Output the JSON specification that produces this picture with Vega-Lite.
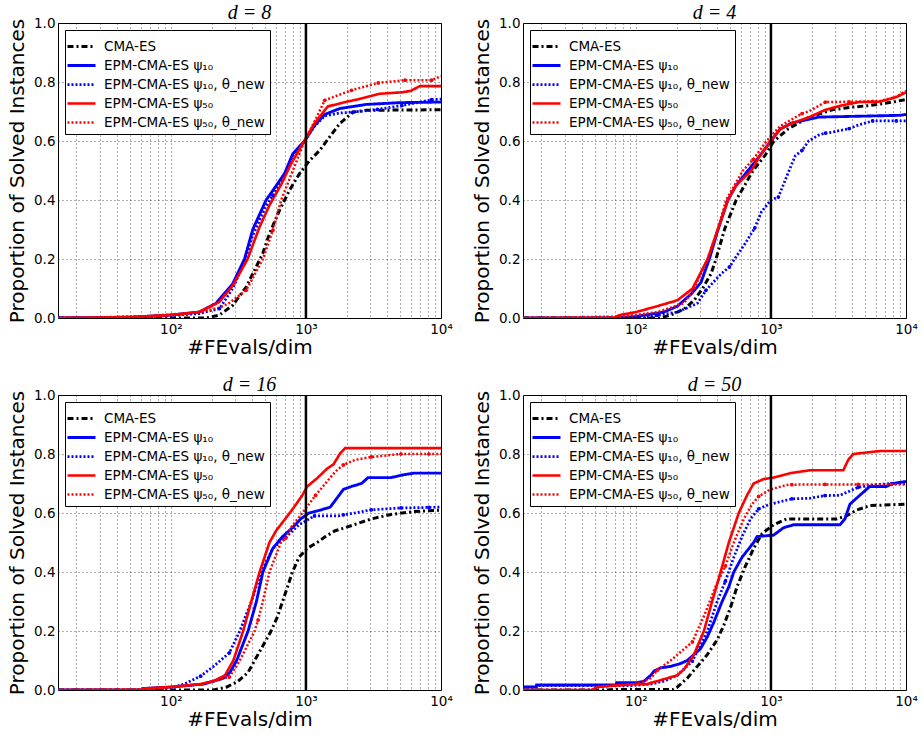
{
"$schema": "https://vega.github.io/schema/vega-lite/v6.json",
"background": "white",
"padding": {"left": 7, "top": 2, "right": 5, "bottom": 5},
"config": {
  "font": "DejaVu Sans",
  "view": {"stroke": "#000", "strokeWidth": 1},
  "title": {"font": "Liberation Serif", "fontStyle": "italic", "fontSize": 20, "fontWeight": "normal", "offset": -7, "color": "#000"},
  "axis": {"grid": true, "gridDash": [1, 3], "gridColor": "#000", "gridOpacity": 0.65, "gridWidth": 1, "domain": false, "ticks": false, "labelFontSize": 13.5, "labelColor": "#000", "titleFontSize": 20, "titleFontWeight": "normal", "titleColor": "#000", "labelFlush": false, "labelOverlap": false},
  "axisX": {"labelPadding": 4, "titlePadding": 2},
  "axisY": {"labelPadding": 3, "titlePadding": 6},
  "legend": {"orient": "top-left", "offset": 7, "fillColor": "#fff", "strokeColor": "#000", "padding": 5, "labelFontSize": 13.5, "labelColor": "#000", "labelLimit": 300, "symbolType": "M-1.4,0L1.4,0", "symbolSize": 400, "rowPadding": 1, "labelOffset": 11, "cornerRadius": 0}
},
"datasets": {
  "vline": [{"x": 1000}],
  "curves": [
{"d":8,"s":"c","x":14.6,"y":0},{"d":8,"s":"c","x":182,"y":0},{"d":8,"s":"c","x":229,"y":0.01},{"d":8,"s":"c","x":287,"y":0.043},{"d":8,"s":"c","x":361,"y":0.105},{"d":8,"s":"c","x":428,"y":0.173},{"d":8,"s":"c","x":480,"y":0.22},{"d":8,"s":"c","x":537,"y":0.286},{"d":8,"s":"c","x":637,"y":0.365},{"d":8,"s":"c","x":756,"y":0.433},{"d":8,"s":"c","x":898,"y":0.49},{"d":8,"s":"c","x":1065,"y":0.534},{"d":8,"s":"c","x":1263,"y":0.568},{"d":8,"s":"c","x":1500,"y":0.614},{"d":8,"s":"c","x":1778,"y":0.659},{"d":8,"s":"c","x":2234,"y":0.698},{"d":8,"s":"c","x":2805,"y":0.704},{"d":8,"s":"c","x":10000,"y":0.706},
{"d":8,"s":"b","x":14.6,"y":0},{"d":8,"s":"b","x":52,"y":0.003},{"d":8,"s":"b","x":100,"y":0.01},{"d":8,"s":"b","x":162,"y":0.02},{"d":8,"s":"b","x":216,"y":0.05},{"d":8,"s":"b","x":287,"y":0.116},{"d":8,"s":"b","x":351,"y":0.2},{"d":8,"s":"b","x":404,"y":0.3},{"d":8,"s":"b","x":507,"y":0.4},{"d":8,"s":"b","x":553,"y":0.424},{"d":8,"s":"b","x":695,"y":0.49},{"d":8,"s":"b","x":800,"y":0.557},{"d":8,"s":"b","x":977,"y":0.6},{"d":8,"s":"b","x":1159,"y":0.653},{"d":8,"s":"b","x":1376,"y":0.69},{"d":8,"s":"b","x":1778,"y":0.71},{"d":8,"s":"b","x":2805,"y":0.724},{"d":8,"s":"b","x":4966,"y":0.73},{"d":8,"s":"b","x":10000,"y":0.732},
{"d":8,"s":"bn","x":14.6,"y":0},{"d":8,"s":"bn","x":52,"y":0.003},{"d":8,"s":"bn","x":100,"y":0.008},{"d":8,"s":"bn","x":162,"y":0.015},{"d":8,"s":"bn","x":229,"y":0.032},{"d":8,"s":"bn","x":287,"y":0.1},{"d":8,"s":"bn","x":351,"y":0.19},{"d":8,"s":"bn","x":404,"y":0.28},{"d":8,"s":"bn","x":507,"y":0.38},{"d":8,"s":"bn","x":569,"y":0.416},{"d":8,"s":"bn","x":695,"y":0.48},{"d":8,"s":"bn","x":800,"y":0.55},{"d":8,"s":"bn","x":977,"y":0.6},{"d":8,"s":"bn","x":1159,"y":0.65},{"d":8,"s":"bn","x":1376,"y":0.685},{"d":8,"s":"bn","x":1778,"y":0.695},{"d":8,"s":"bn","x":2234,"y":0.698},{"d":8,"s":"bn","x":3388,"y":0.707},{"d":8,"s":"bn","x":5130,"y":0.72},{"d":8,"s":"bn","x":8510,"y":0.74},{"d":8,"s":"bn","x":10000,"y":0.742},
{"d":8,"s":"r","x":14.6,"y":0},{"d":8,"s":"r","x":52,"y":0.003},{"d":8,"s":"r","x":100,"y":0.01},{"d":8,"s":"r","x":162,"y":0.02},{"d":8,"s":"r","x":228,"y":0.054},{"d":8,"s":"r","x":287,"y":0.11},{"d":8,"s":"r","x":370,"y":0.2},{"d":8,"s":"r","x":453,"y":0.308},{"d":8,"s":"r","x":537,"y":0.382},{"d":8,"s":"r","x":660,"y":0.455},{"d":8,"s":"r","x":777,"y":0.523},{"d":8,"s":"r","x":977,"y":0.602},{"d":8,"s":"r","x":1159,"y":0.66},{"d":8,"s":"r","x":1450,"y":0.717},{"d":8,"s":"r","x":1950,"y":0.732},{"d":8,"s":"r","x":2470,"y":0.742},{"d":8,"s":"r","x":2920,"y":0.751},{"d":8,"s":"r","x":3480,"y":0.76},{"d":8,"s":"r","x":5130,"y":0.765},{"d":8,"s":"r","x":6000,"y":0.77},{"d":8,"s":"r","x":6950,"y":0.786},{"d":8,"s":"r","x":10000,"y":0.786},
{"d":8,"s":"rn","x":14.6,"y":0},{"d":8,"s":"rn","x":60,"y":0.005},{"d":8,"s":"rn","x":100,"y":0.012},{"d":8,"s":"rn","x":162,"y":0.02},{"d":8,"s":"rn","x":230,"y":0.035},{"d":8,"s":"rn","x":269,"y":0.05},{"d":8,"s":"rn","x":361,"y":0.094},{"d":8,"s":"rn","x":480,"y":0.2},{"d":8,"s":"rn","x":569,"y":0.297},{"d":8,"s":"rn","x":656,"y":0.4},{"d":8,"s":"rn","x":800,"y":0.5},{"d":8,"s":"rn","x":977,"y":0.6},{"d":8,"s":"rn","x":1200,"y":0.68},{"d":8,"s":"rn","x":1377,"y":0.738},{"d":8,"s":"rn","x":2173,"y":0.772},{"d":8,"s":"rn","x":3428,"y":0.797},{"d":8,"s":"rn","x":5410,"y":0.806},{"d":8,"s":"rn","x":8510,"y":0.806},{"d":8,"s":"rn","x":10000,"y":0.82},

{"d":4,"s":"c","x":14.6,"y":0},{"d":4,"s":"c","x":150,"y":0},{"d":4,"s":"c","x":181,"y":0.01},{"d":4,"s":"c","x":227,"y":0.03},{"d":4,"s":"c","x":270,"y":0.06},{"d":4,"s":"c","x":312,"y":0.1},{"d":4,"s":"c","x":360,"y":0.15},{"d":4,"s":"c","x":392,"y":0.2},{"d":4,"s":"c","x":453,"y":0.3},{"d":4,"s":"c","x":553,"y":0.4},{"d":4,"s":"c","x":639,"y":0.45},{"d":4,"s":"c","x":738,"y":0.5},{"d":4,"s":"c","x":902,"y":0.55},{"d":4,"s":"c","x":1040,"y":0.597},{"d":4,"s":"c","x":1348,"y":0.642},{"d":4,"s":"c","x":1901,"y":0.68},{"d":4,"s":"c","x":2844,"y":0.706},{"d":4,"s":"c","x":4010,"y":0.715},{"d":4,"s":"c","x":5345,"y":0.72},{"d":4,"s":"c","x":8000,"y":0.732},{"d":4,"s":"c","x":10000,"y":0.741},
{"d":4,"s":"b","x":14.6,"y":0},{"d":4,"s":"b","x":72,"y":0},{"d":4,"s":"b","x":100,"y":0.005},{"d":4,"s":"b","x":161,"y":0.02},{"d":4,"s":"b","x":203,"y":0.04},{"d":4,"s":"b","x":255,"y":0.08},{"d":4,"s":"b","x":303,"y":0.12},{"d":4,"s":"b","x":350,"y":0.2},{"d":4,"s":"b","x":404,"y":0.297},{"d":4,"s":"b","x":480,"y":0.4},{"d":4,"s":"b","x":553,"y":0.45},{"d":4,"s":"b","x":677,"y":0.5},{"d":4,"s":"b","x":828,"y":0.55},{"d":4,"s":"b","x":1000,"y":0.6},{"d":4,"s":"b","x":1167,"y":0.64},{"d":4,"s":"b","x":1429,"y":0.661},{"d":4,"s":"b","x":2259,"y":0.681},{"d":4,"s":"b","x":8980,"y":0.687},{"d":4,"s":"b","x":10000,"y":0.69},
{"d":4,"s":"bn","x":14.6,"y":0},{"d":4,"s":"bn","x":114,"y":0},{"d":4,"s":"bn","x":144,"y":0.009},{"d":4,"s":"bn","x":203,"y":0.02},{"d":4,"s":"bn","x":286,"y":0.05},{"d":4,"s":"bn","x":330,"y":0.094},{"d":4,"s":"bn","x":428,"y":0.15},{"d":4,"s":"bn","x":493,"y":0.173},{"d":4,"s":"bn","x":538,"y":0.2},{"d":4,"s":"bn","x":639,"y":0.25},{"d":4,"s":"bn","x":759,"y":0.305},{"d":4,"s":"bn","x":851,"y":0.36},{"d":4,"s":"bn","x":1000,"y":0.4},{"d":4,"s":"bn","x":1135,"y":0.41},{"d":4,"s":"bn","x":1309,"y":0.48},{"d":4,"s":"bn","x":1514,"y":0.55},{"d":4,"s":"bn","x":1698,"y":0.568},{"d":4,"s":"bn","x":1901,"y":0.6},{"d":4,"s":"bn","x":2259,"y":0.62},{"d":4,"s":"bn","x":2535,"y":0.627},{"d":4,"s":"bn","x":2844,"y":0.63},{"d":4,"s":"bn","x":3793,"y":0.642},{"d":4,"s":"bn","x":4500,"y":0.655},{"d":4,"s":"bn","x":5660,"y":0.668},{"d":4,"s":"bn","x":8470,"y":0.668},{"d":4,"s":"bn","x":10000,"y":0.668},
{"d":4,"s":"r","x":14.6,"y":0},{"d":4,"s":"r","x":68,"y":0},{"d":4,"s":"r","x":76,"y":0.01},{"d":4,"s":"r","x":100,"y":0.02},{"d":4,"s":"r","x":144,"y":0.04},{"d":4,"s":"r","x":203,"y":0.06},{"d":4,"s":"r","x":263,"y":0.1},{"d":4,"s":"r","x":340,"y":0.2},{"d":4,"s":"r","x":404,"y":0.3},{"d":4,"s":"r","x":480,"y":0.4},{"d":4,"s":"r","x":553,"y":0.45},{"d":4,"s":"r","x":716,"y":0.5},{"d":4,"s":"r","x":828,"y":0.55},{"d":4,"s":"r","x":1000,"y":0.6},{"d":4,"s":"r","x":1167,"y":0.64},{"d":4,"s":"r","x":1429,"y":0.66},{"d":4,"s":"r","x":1900,"y":0.68},{"d":4,"s":"r","x":2540,"y":0.706},{"d":4,"s":"r","x":3380,"y":0.721},{"d":4,"s":"r","x":4480,"y":0.732},{"d":4,"s":"r","x":6320,"y":0.733},{"d":4,"s":"r","x":8500,"y":0.749},{"d":4,"s":"r","x":10000,"y":0.765},
{"d":4,"s":"rn","x":14.6,"y":0},{"d":4,"s":"rn","x":76,"y":0.005},{"d":4,"s":"rn","x":100,"y":0.01},{"d":4,"s":"rn","x":144,"y":0.02},{"d":4,"s":"rn","x":227,"y":0.05},{"d":4,"s":"rn","x":270,"y":0.1},{"d":4,"s":"rn","x":340,"y":0.2},{"d":4,"s":"rn","x":404,"y":0.3},{"d":4,"s":"rn","x":466,"y":0.4},{"d":4,"s":"rn","x":538,"y":0.45},{"d":4,"s":"rn","x":621,"y":0.5},{"d":4,"s":"rn","x":738,"y":0.537},{"d":4,"s":"rn","x":929,"y":0.6},{"d":4,"s":"rn","x":1167,"y":0.65},{"d":4,"s":"rn","x":1514,"y":0.68},{"d":4,"s":"rn","x":1698,"y":0.693},{"d":4,"s":"rn","x":1901,"y":0.7},{"d":4,"s":"rn","x":2535,"y":0.732},{"d":4,"s":"rn","x":3793,"y":0.733},{"d":4,"s":"rn","x":6350,"y":0.735},{"d":4,"s":"rn","x":8470,"y":0.75},{"d":4,"s":"rn","x":10000,"y":0.77},

{"d":16,"s":"c","x":14.6,"y":0},{"d":16,"s":"c","x":207,"y":0},{"d":16,"s":"c","x":259,"y":0.01},{"d":16,"s":"c","x":315,"y":0.03},{"d":16,"s":"c","x":373,"y":0.06},{"d":16,"s":"c","x":417,"y":0.1},{"d":16,"s":"c","x":480,"y":0.15},{"d":16,"s":"c","x":552,"y":0.2},{"d":16,"s":"c","x":618,"y":0.25},{"d":16,"s":"c","x":671,"y":0.3},{"d":16,"s":"c","x":731,"y":0.35},{"d":16,"s":"c","x":794,"y":0.4},{"d":16,"s":"c","x":889,"y":0.45},{"d":16,"s":"c","x":1023,"y":0.48},{"d":16,"s":"c","x":1211,"y":0.5},{"d":16,"s":"c","x":1393,"y":0.52},{"d":16,"s":"c","x":1648,"y":0.54},{"d":16,"s":"c","x":1950,"y":0.55},{"d":16,"s":"c","x":2438,"y":0.565},{"d":16,"s":"c","x":3047,"y":0.58},{"d":16,"s":"c","x":4266,"y":0.595},{"d":16,"s":"c","x":6310,"y":0.605},{"d":16,"s":"c","x":10000,"y":0.61},
{"d":16,"s":"b","x":14.6,"y":0},{"d":16,"s":"b","x":60,"y":0},{"d":16,"s":"b","x":62,"y":0.005},{"d":16,"s":"b","x":100,"y":0.01},{"d":16,"s":"b","x":175,"y":0.02},{"d":16,"s":"b","x":245,"y":0.04},{"d":16,"s":"b","x":274,"y":0.06},{"d":16,"s":"b","x":307,"y":0.1},{"d":16,"s":"b","x":373,"y":0.2},{"d":16,"s":"b","x":430,"y":0.3},{"d":16,"s":"b","x":480,"y":0.4},{"d":16,"s":"b","x":568,"y":0.48},{"d":16,"s":"b","x":671,"y":0.52},{"d":16,"s":"b","x":794,"y":0.55},{"d":16,"s":"b","x":914,"y":0.58},{"d":16,"s":"b","x":1052,"y":0.6},{"d":16,"s":"b","x":1280,"y":0.61},{"d":16,"s":"b","x":1514,"y":0.62},{"d":16,"s":"b","x":1694,"y":0.65},{"d":16,"s":"b","x":1893,"y":0.68},{"d":16,"s":"b","x":2178,"y":0.69},{"d":16,"s":"b","x":2577,"y":0.7},{"d":16,"s":"b","x":2884,"y":0.72},{"d":16,"s":"b","x":4266,"y":0.72},{"d":16,"s":"b","x":5333,"y":0.73},{"d":16,"s":"b","x":6310,"y":0.735},{"d":16,"s":"b","x":10000,"y":0.735},
{"d":16,"s":"bn","x":14.6,"y":0},{"d":16,"s":"bn","x":70,"y":0},{"d":16,"s":"bn","x":106,"y":0.01},{"d":16,"s":"bn","x":125,"y":0.02},{"d":16,"s":"bn","x":166,"y":0.047},{"d":16,"s":"bn","x":207,"y":0.08},{"d":16,"s":"bn","x":271,"y":0.126},{"d":16,"s":"bn","x":324,"y":0.2},{"d":16,"s":"bn","x":394,"y":0.3},{"d":16,"s":"bn","x":467,"y":0.4},{"d":16,"s":"bn","x":568,"y":0.48},{"d":16,"s":"bn","x":703,"y":0.517},{"d":16,"s":"bn","x":889,"y":0.56},{"d":16,"s":"bn","x":1157,"y":0.59},{"d":16,"s":"bn","x":1742,"y":0.59},{"d":16,"s":"bn","x":1893,"y":0.594},{"d":16,"s":"bn","x":2306,"y":0.6},{"d":16,"s":"bn","x":3047,"y":0.611},{"d":16,"s":"bn","x":5050,"y":0.617},{"d":16,"s":"bn","x":8130,"y":0.619},{"d":16,"s":"bn","x":10000,"y":0.62},
{"d":16,"s":"r","x":14.6,"y":0},{"d":16,"s":"r","x":60,"y":0},{"d":16,"s":"r","x":62,"y":0.005},{"d":16,"s":"r","x":100,"y":0.01},{"d":16,"s":"r","x":166,"y":0.02},{"d":16,"s":"r","x":207,"y":0.03},{"d":16,"s":"r","x":252,"y":0.05},{"d":16,"s":"r","x":290,"y":0.1},{"d":16,"s":"r","x":343,"y":0.2},{"d":16,"s":"r","x":394,"y":0.3},{"d":16,"s":"r","x":454,"y":0.4},{"d":16,"s":"r","x":537,"y":0.5},{"d":16,"s":"r","x":601,"y":0.54},{"d":16,"s":"r","x":711,"y":0.583},{"d":16,"s":"r","x":817,"y":0.62},{"d":16,"s":"r","x":940,"y":0.66},{"d":16,"s":"r","x":1023,"y":0.69},{"d":16,"s":"r","x":1211,"y":0.718},{"d":16,"s":"r","x":1432,"y":0.75},{"d":16,"s":"r","x":1600,"y":0.765},{"d":16,"s":"r","x":1791,"y":0.802},{"d":16,"s":"r","x":1950,"y":0.82},{"d":16,"s":"r","x":10000,"y":0.82},
{"d":16,"s":"rn","x":14.6,"y":0},{"d":16,"s":"rn","x":62,"y":0.003},{"d":16,"s":"rn","x":100,"y":0.01},{"d":16,"s":"rn","x":166,"y":0.02},{"d":16,"s":"rn","x":271,"y":0.044},{"d":16,"s":"rn","x":324,"y":0.1},{"d":16,"s":"rn","x":417,"y":0.2},{"d":16,"s":"rn","x":442,"y":0.237},{"d":16,"s":"rn","x":480,"y":0.3},{"d":16,"s":"rn","x":537,"y":0.4},{"d":16,"s":"rn","x":653,"y":0.5},{"d":16,"s":"rn","x":711,"y":0.515},{"d":16,"s":"rn","x":773,"y":0.55},{"d":16,"s":"rn","x":940,"y":0.6},{"d":16,"s":"rn","x":1178,"y":0.66},{"d":16,"s":"rn","x":1393,"y":0.7},{"d":16,"s":"rn","x":1648,"y":0.74},{"d":16,"s":"rn","x":1893,"y":0.763},{"d":16,"s":"rn","x":2306,"y":0.78},{"d":16,"s":"rn","x":3047,"y":0.79},{"d":16,"s":"rn","x":5050,"y":0.8},{"d":16,"s":"rn","x":8130,"y":0.8},{"d":16,"s":"rn","x":10000,"y":0.8},

{"d":50,"s":"c","x":14.6,"y":0},{"d":50,"s":"c","x":60,"y":0},{"d":50,"s":"c","x":70,"y":0.002},{"d":50,"s":"c","x":190,"y":0.002},{"d":50,"s":"c","x":203,"y":0.01},{"d":50,"s":"c","x":240,"y":0.04},{"d":50,"s":"c","x":285,"y":0.08},{"d":50,"s":"c","x":338,"y":0.12},{"d":50,"s":"c","x":400,"y":0.17},{"d":50,"s":"c","x":448,"y":0.22},{"d":50,"s":"c","x":502,"y":0.28},{"d":50,"s":"c","x":561,"y":0.35},{"d":50,"s":"c","x":647,"y":0.42},{"d":50,"s":"c","x":745,"y":0.48},{"d":50,"s":"c","x":859,"y":0.53},{"d":50,"s":"c","x":1047,"y":0.56},{"d":50,"s":"c","x":1312,"y":0.58},{"d":50,"s":"c","x":3062,"y":0.58},{"d":50,"s":"c","x":3631,"y":0.59},{"d":50,"s":"c","x":4305,"y":0.61},{"d":50,"s":"c","x":5395,"y":0.625},{"d":50,"s":"c","x":10000,"y":0.63},
{"d":50,"s":"b","x":14.6,"y":0.01},{"d":50,"s":"b","x":18.3,"y":0.01},{"d":50,"s":"b","x":18.4,"y":0.017},{"d":50,"s":"b","x":71.3,"y":0.017},{"d":50,"s":"b","x":72,"y":0.025},{"d":50,"s":"b","x":103,"y":0.025},{"d":50,"s":"b","x":115,"y":0.03},{"d":50,"s":"b","x":129,"y":0.05},{"d":50,"s":"b","x":137,"y":0.065},{"d":50,"s":"b","x":153,"y":0.075},{"d":50,"s":"b","x":181,"y":0.08},{"d":50,"s":"b","x":215,"y":0.09},{"d":50,"s":"b","x":240,"y":0.1},{"d":50,"s":"b","x":269,"y":0.12},{"d":50,"s":"b","x":301,"y":0.14},{"d":50,"s":"b","x":338,"y":0.18},{"d":50,"s":"b","x":378,"y":0.23},{"d":50,"s":"b","x":435,"y":0.3},{"d":50,"s":"b","x":488,"y":0.35},{"d":50,"s":"b","x":531,"y":0.4},{"d":50,"s":"b","x":611,"y":0.45},{"d":50,"s":"b","x":745,"y":0.5},{"d":50,"s":"b","x":789,"y":0.52},{"d":50,"s":"b","x":1047,"y":0.525},{"d":50,"s":"b","x":1239,"y":0.55},{"d":50,"s":"b","x":1469,"y":0.56},{"d":50,"s":"b","x":3243,"y":0.56},{"d":50,"s":"b","x":3532,"y":0.58},{"d":50,"s":"b","x":3846,"y":0.63},{"d":50,"s":"b","x":4550,"y":0.66},{"d":50,"s":"b","x":5395,"y":0.69},{"d":50,"s":"b","x":7161,"y":0.69},{"d":50,"s":"b","x":8017,"y":0.7},{"d":50,"s":"b","x":10000,"y":0.707},
{"d":50,"s":"bn","x":14.6,"y":0.01},{"d":50,"s":"bn","x":18.4,"y":0.01},{"d":50,"s":"bn","x":19,"y":0.015},{"d":50,"s":"bn","x":92,"y":0.015},{"d":50,"s":"bn","x":129,"y":0.02},{"d":50,"s":"bn","x":162,"y":0.03},{"d":50,"s":"bn","x":203,"y":0.05},{"d":50,"s":"bn","x":262,"y":0.098},{"d":50,"s":"bn","x":338,"y":0.2},{"d":50,"s":"bn","x":400,"y":0.3},{"d":50,"s":"bn","x":460,"y":0.369},{"d":50,"s":"bn","x":531,"y":0.45},{"d":50,"s":"bn","x":611,"y":0.52},{"d":50,"s":"bn","x":705,"y":0.58},{"d":50,"s":"bn","x":811,"y":0.614},{"d":50,"s":"bn","x":989,"y":0.63},{"d":50,"s":"bn","x":1429,"y":0.648},{"d":50,"s":"bn","x":1950,"y":0.65},{"d":50,"s":"bn","x":2512,"y":0.659},{"d":50,"s":"bn","x":3243,"y":0.66},{"d":50,"s":"bn","x":4426,"y":0.687},{"d":50,"s":"bn","x":5715,"y":0.695},{"d":50,"s":"bn","x":7800,"y":0.7},{"d":50,"s":"bn","x":10000,"y":0.7},
{"d":50,"s":"r","x":14.6,"y":0},{"d":50,"s":"r","x":47,"y":0},{"d":50,"s":"r","x":52,"y":0.01},{"d":50,"s":"r","x":69,"y":0.015},{"d":50,"s":"r","x":100,"y":0.02},{"d":50,"s":"r","x":120,"y":0.02},{"d":50,"s":"r","x":144,"y":0.03},{"d":50,"s":"r","x":171,"y":0.04},{"d":50,"s":"r","x":203,"y":0.05},{"d":50,"s":"r","x":227,"y":0.07},{"d":50,"s":"r","x":269,"y":0.12},{"d":50,"s":"r","x":319,"y":0.2},{"d":50,"s":"r","x":367,"y":0.3},{"d":50,"s":"r","x":424,"y":0.4},{"d":50,"s":"r","x":488,"y":0.5},{"d":50,"s":"r","x":578,"y":0.6},{"d":50,"s":"r","x":665,"y":0.66},{"d":50,"s":"r","x":745,"y":0.7},{"d":50,"s":"r","x":883,"y":0.715},{"d":50,"s":"r","x":1047,"y":0.72},{"d":50,"s":"r","x":1390,"y":0.735},{"d":50,"s":"r","x":1950,"y":0.745},{"d":50,"s":"r","x":3434,"y":0.745},{"d":50,"s":"r","x":3736,"y":0.78},{"d":50,"s":"r","x":4063,"y":0.8},{"d":50,"s":"r","x":5102,"y":0.805},{"d":50,"s":"r","x":6397,"y":0.81},{"d":50,"s":"r","x":10000,"y":0.81},
{"d":50,"s":"rn","x":14.6,"y":0},{"d":50,"s":"rn","x":47,"y":0},{"d":50,"s":"rn","x":52,"y":0.01},{"d":50,"s":"rn","x":69,"y":0.015},{"d":50,"s":"rn","x":100,"y":0.02},{"d":50,"s":"rn","x":129,"y":0.04},{"d":50,"s":"rn","x":144,"y":0.067},{"d":50,"s":"rn","x":181,"y":0.1},{"d":50,"s":"rn","x":262,"y":0.163},{"d":50,"s":"rn","x":319,"y":0.25},{"d":50,"s":"rn","x":389,"y":0.35},{"d":50,"s":"rn","x":460,"y":0.42},{"d":50,"s":"rn","x":531,"y":0.5},{"d":50,"s":"rn","x":630,"y":0.58},{"d":50,"s":"rn","x":725,"y":0.63},{"d":50,"s":"rn","x":811,"y":0.656},{"d":50,"s":"rn","x":989,"y":0.68},{"d":50,"s":"rn","x":1312,"y":0.695},{"d":50,"s":"rn","x":1429,"y":0.696},{"d":50,"s":"rn","x":2512,"y":0.697},{"d":50,"s":"rn","x":10000,"y":0.697}
  ],
  "marks": [
{"d":8,"s":"bn","x":229,"y":0.032},{"d":8,"s":"bn","x":569,"y":0.416},{"d":8,"s":"bn","x":2234,"y":0.698},{"d":8,"s":"bn","x":3388,"y":0.707},{"d":8,"s":"bn","x":5130,"y":0.72},{"d":8,"s":"bn","x":8510,"y":0.74},
{"d":8,"s":"rn","x":361,"y":0.094},{"d":8,"s":"rn","x":569,"y":0.297},{"d":8,"s":"rn","x":1377,"y":0.738},{"d":8,"s":"rn","x":2173,"y":0.772},{"d":8,"s":"rn","x":3428,"y":0.797},{"d":8,"s":"rn","x":5410,"y":0.806},{"d":8,"s":"rn","x":8510,"y":0.806},
{"d":4,"s":"bn","x":144,"y":0.009},{"d":4,"s":"bn","x":330,"y":0.094},{"d":4,"s":"bn","x":493,"y":0.173},{"d":4,"s":"bn","x":759,"y":0.305},{"d":4,"s":"bn","x":1135,"y":0.41},{"d":4,"s":"bn","x":1698,"y":0.568},{"d":4,"s":"bn","x":2535,"y":0.627},{"d":4,"s":"bn","x":3793,"y":0.642},{"d":4,"s":"bn","x":5660,"y":0.668},{"d":4,"s":"bn","x":8470,"y":0.668},
{"d":4,"s":"rn","x":738,"y":0.537},{"d":4,"s":"rn","x":1698,"y":0.693},{"d":4,"s":"rn","x":2535,"y":0.732},{"d":4,"s":"rn","x":3793,"y":0.733},{"d":4,"s":"rn","x":5660,"y":0.734},
{"d":16,"s":"bn","x":166,"y":0.047},{"d":16,"s":"bn","x":271,"y":0.126},{"d":16,"s":"bn","x":703,"y":0.517},{"d":16,"s":"bn","x":1157,"y":0.59},{"d":16,"s":"bn","x":1893,"y":0.594},{"d":16,"s":"bn","x":3047,"y":0.611},{"d":16,"s":"bn","x":5050,"y":0.617},{"d":16,"s":"bn","x":8130,"y":0.619},
{"d":16,"s":"rn","x":271,"y":0.044},{"d":16,"s":"rn","x":442,"y":0.237},{"d":16,"s":"rn","x":711,"y":0.515},{"d":16,"s":"rn","x":1178,"y":0.66},{"d":16,"s":"rn","x":1893,"y":0.763},{"d":16,"s":"rn","x":3047,"y":0.79},{"d":16,"s":"rn","x":5050,"y":0.8},{"d":16,"s":"rn","x":8130,"y":0.8},
{"d":50,"s":"bn","x":262,"y":0.098},{"d":50,"s":"bn","x":460,"y":0.369},{"d":50,"s":"bn","x":811,"y":0.614},{"d":50,"s":"bn","x":1429,"y":0.648},{"d":50,"s":"bn","x":2512,"y":0.659},{"d":50,"s":"bn","x":4426,"y":0.687},{"d":50,"s":"bn","x":7800,"y":0.7},
{"d":50,"s":"rn","x":144,"y":0.067},{"d":50,"s":"rn","x":262,"y":0.163},{"d":50,"s":"rn","x":460,"y":0.42},{"d":50,"s":"rn","x":811,"y":0.656},{"d":50,"s":"rn","x":1429,"y":0.696},{"d":50,"s":"rn","x":2512,"y":0.697},{"d":50,"s":"rn","x":4426,"y":0.697},{"d":50,"s":"rn","x":7800,"y":0.697}
  ]
},
"columns": 2,
"bounds": "flush",
"spacing": {"row": 77, "column": 82},
"resolve": {
  "scale": {"color": "independent", "strokeDash": "independent", "strokeWidth": "independent", "fill": "independent"},
  "legend": {"color": "independent", "strokeDash": "independent", "strokeWidth": "independent"}
},
"concat": [
 {"width": 383, "height": 295, "title": "d = 8",
  "layer": [
   {"data": {"name": "curves"}, "transform": [{"filter": "datum.d == 8"}], "mark": {"type": "line", "clip": true},
    "encoding": {
     "x": {"field": "x", "type": "quantitative", "scale": {"type": "log", "domain": [14.6, 10000], "nice": false}, "axis": {"title": "#FEvals/dim", "values": [20,30,40,50,60,70,80,90,100,200,300,400,500,600,700,800,900,1000,2000,3000,4000,5000,6000,7000,8000,9000,10000], "labelExpr": "datum.value == 100 ? '10²' : datum.value == 1000 ? '10³' : datum.value == 10000 ? '10⁴' : ''"}},
     "y": {"field": "y", "type": "quantitative", "scale": {"domain": [0, 1], "nice": false}, "axis": {"title": "Proportion of Solved Instances", "values": [0, 0.2, 0.4, 0.6, 0.8, 1.0], "format": ".1f"}},
     "color": {"field": "s", "type": "nominal", "scale": {"domain": ["c","b","bn","r","rn"], "range": ["#000000","#0000ff","#0000ff","#ff0000","#ff0000"]}, "legend": {"title": null, "labelExpr": "datum.value == 'c' ? 'CMA-ES' : datum.value == 'b' ? 'EPM-CMA-ES ψ₁₀' : datum.value == 'bn' ? 'EPM-CMA-ES ψ₁₀, θ_new' : datum.value == 'r' ? 'EPM-CMA-ES ψ₅₀' : 'EPM-CMA-ES ψ₅₀, θ_new'"}},
     "strokeDash": {"field": "s", "type": "nominal", "scale": {"domain": ["c","b","bn","r","rn"], "range": [[6,3,2,3],[1,0],[2,2],[1,0],[2,2]]}, "legend": {"title": null, "labelExpr": "datum.value == 'c' ? 'CMA-ES' : datum.value == 'b' ? 'EPM-CMA-ES ψ₁₀' : datum.value == 'bn' ? 'EPM-CMA-ES ψ₁₀, θ_new' : datum.value == 'r' ? 'EPM-CMA-ES ψ₅₀' : 'EPM-CMA-ES ψ₅₀, θ_new'"}},
     "strokeWidth": {"field": "s", "type": "nominal", "scale": {"domain": ["c","b","bn","r","rn"], "range": [3,2.5,1.5,2.5,1.5]}, "legend": {"title": null, "labelExpr": "datum.value == 'c' ? 'CMA-ES' : datum.value == 'b' ? 'EPM-CMA-ES ψ₁₀' : datum.value == 'bn' ? 'EPM-CMA-ES ψ₁₀, θ_new' : datum.value == 'r' ? 'EPM-CMA-ES ψ₅₀' : 'EPM-CMA-ES ψ₅₀, θ_new'"}}
    }},
   {"data": {"name": "marks"}, "transform": [{"filter": "datum.d == 8"}], "mark": {"type": "point", "filled": true, "size": 14, "opacity": 1},
    "encoding": {"x": {"field": "x", "type": "quantitative"}, "y": {"field": "y", "type": "quantitative"}, "fill": {"field": "s", "type": "nominal", "scale": {"domain": ["bn","rn"], "range": ["#0000ff","#ff0000"]}, "legend": null}}},
   {"data": {"name": "vline"}, "mark": {"type": "rule", "color": "#000", "strokeWidth": 2.5}, "encoding": {"x": {"field": "x", "type": "quantitative"}}}
  ]},
 {"width": 383, "height": 295, "title": "d = 4",
  "layer": [
   {"data": {"name": "curves"}, "transform": [{"filter": "datum.d == 4"}], "mark": {"type": "line", "clip": true},
    "encoding": {
     "x": {"field": "x", "type": "quantitative", "scale": {"type": "log", "domain": [14.6, 10000], "nice": false}, "axis": {"title": "#FEvals/dim", "values": [20,30,40,50,60,70,80,90,100,200,300,400,500,600,700,800,900,1000,2000,3000,4000,5000,6000,7000,8000,9000,10000], "labelExpr": "datum.value == 100 ? '10²' : datum.value == 1000 ? '10³' : datum.value == 10000 ? '10⁴' : ''"}},
     "y": {"field": "y", "type": "quantitative", "scale": {"domain": [0, 1], "nice": false}, "axis": {"title": "Proportion of Solved Instances", "values": [0, 0.2, 0.4, 0.6, 0.8, 1.0], "format": ".1f"}},
     "color": {"field": "s", "type": "nominal", "scale": {"domain": ["c","b","bn","r","rn"], "range": ["#000000","#0000ff","#0000ff","#ff0000","#ff0000"]}, "legend": {"title": null, "labelExpr": "datum.value == 'c' ? 'CMA-ES' : datum.value == 'b' ? 'EPM-CMA-ES ψ₁₀' : datum.value == 'bn' ? 'EPM-CMA-ES ψ₁₀, θ_new' : datum.value == 'r' ? 'EPM-CMA-ES ψ₅₀' : 'EPM-CMA-ES ψ₅₀, θ_new'"}},
     "strokeDash": {"field": "s", "type": "nominal", "scale": {"domain": ["c","b","bn","r","rn"], "range": [[6,3,2,3],[1,0],[2,2],[1,0],[2,2]]}, "legend": {"title": null, "labelExpr": "datum.value == 'c' ? 'CMA-ES' : datum.value == 'b' ? 'EPM-CMA-ES ψ₁₀' : datum.value == 'bn' ? 'EPM-CMA-ES ψ₁₀, θ_new' : datum.value == 'r' ? 'EPM-CMA-ES ψ₅₀' : 'EPM-CMA-ES ψ₅₀, θ_new'"}},
     "strokeWidth": {"field": "s", "type": "nominal", "scale": {"domain": ["c","b","bn","r","rn"], "range": [3,2.5,1.5,2.5,1.5]}, "legend": {"title": null, "labelExpr": "datum.value == 'c' ? 'CMA-ES' : datum.value == 'b' ? 'EPM-CMA-ES ψ₁₀' : datum.value == 'bn' ? 'EPM-CMA-ES ψ₁₀, θ_new' : datum.value == 'r' ? 'EPM-CMA-ES ψ₅₀' : 'EPM-CMA-ES ψ₅₀, θ_new'"}}
    }},
   {"data": {"name": "marks"}, "transform": [{"filter": "datum.d == 4"}], "mark": {"type": "point", "filled": true, "size": 14, "opacity": 1},
    "encoding": {"x": {"field": "x", "type": "quantitative"}, "y": {"field": "y", "type": "quantitative"}, "fill": {"field": "s", "type": "nominal", "scale": {"domain": ["bn","rn"], "range": ["#0000ff","#ff0000"]}, "legend": null}}},
   {"data": {"name": "vline"}, "mark": {"type": "rule", "color": "#000", "strokeWidth": 2.5}, "encoding": {"x": {"field": "x", "type": "quantitative"}}}
  ]},
 {"width": 383, "height": 295, "title": "d = 16",
  "layer": [
   {"data": {"name": "curves"}, "transform": [{"filter": "datum.d == 16"}], "mark": {"type": "line", "clip": true},
    "encoding": {
     "x": {"field": "x", "type": "quantitative", "scale": {"type": "log", "domain": [14.6, 10000], "nice": false}, "axis": {"title": "#FEvals/dim", "values": [20,30,40,50,60,70,80,90,100,200,300,400,500,600,700,800,900,1000,2000,3000,4000,5000,6000,7000,8000,9000,10000], "labelExpr": "datum.value == 100 ? '10²' : datum.value == 1000 ? '10³' : datum.value == 10000 ? '10⁴' : ''"}},
     "y": {"field": "y", "type": "quantitative", "scale": {"domain": [0, 1], "nice": false}, "axis": {"title": "Proportion of Solved Instances", "values": [0, 0.2, 0.4, 0.6, 0.8, 1.0], "format": ".1f"}},
     "color": {"field": "s", "type": "nominal", "scale": {"domain": ["c","b","bn","r","rn"], "range": ["#000000","#0000ff","#0000ff","#ff0000","#ff0000"]}, "legend": {"title": null, "labelExpr": "datum.value == 'c' ? 'CMA-ES' : datum.value == 'b' ? 'EPM-CMA-ES ψ₁₀' : datum.value == 'bn' ? 'EPM-CMA-ES ψ₁₀, θ_new' : datum.value == 'r' ? 'EPM-CMA-ES ψ₅₀' : 'EPM-CMA-ES ψ₅₀, θ_new'"}},
     "strokeDash": {"field": "s", "type": "nominal", "scale": {"domain": ["c","b","bn","r","rn"], "range": [[6,3,2,3],[1,0],[2,2],[1,0],[2,2]]}, "legend": {"title": null, "labelExpr": "datum.value == 'c' ? 'CMA-ES' : datum.value == 'b' ? 'EPM-CMA-ES ψ₁₀' : datum.value == 'bn' ? 'EPM-CMA-ES ψ₁₀, θ_new' : datum.value == 'r' ? 'EPM-CMA-ES ψ₅₀' : 'EPM-CMA-ES ψ₅₀, θ_new'"}},
     "strokeWidth": {"field": "s", "type": "nominal", "scale": {"domain": ["c","b","bn","r","rn"], "range": [3,2.5,1.5,2.5,1.5]}, "legend": {"title": null, "labelExpr": "datum.value == 'c' ? 'CMA-ES' : datum.value == 'b' ? 'EPM-CMA-ES ψ₁₀' : datum.value == 'bn' ? 'EPM-CMA-ES ψ₁₀, θ_new' : datum.value == 'r' ? 'EPM-CMA-ES ψ₅₀' : 'EPM-CMA-ES ψ₅₀, θ_new'"}}
    }},
   {"data": {"name": "marks"}, "transform": [{"filter": "datum.d == 16"}], "mark": {"type": "point", "filled": true, "size": 14, "opacity": 1},
    "encoding": {"x": {"field": "x", "type": "quantitative"}, "y": {"field": "y", "type": "quantitative"}, "fill": {"field": "s", "type": "nominal", "scale": {"domain": ["bn","rn"], "range": ["#0000ff","#ff0000"]}, "legend": null}}},
   {"data": {"name": "vline"}, "mark": {"type": "rule", "color": "#000", "strokeWidth": 2.5}, "encoding": {"x": {"field": "x", "type": "quantitative"}}}
  ]},
 {"width": 383, "height": 295, "title": "d = 50",
  "layer": [
   {"data": {"name": "curves"}, "transform": [{"filter": "datum.d == 50"}], "mark": {"type": "line", "clip": true},
    "encoding": {
     "x": {"field": "x", "type": "quantitative", "scale": {"type": "log", "domain": [14.6, 10000], "nice": false}, "axis": {"title": "#FEvals/dim", "values": [20,30,40,50,60,70,80,90,100,200,300,400,500,600,700,800,900,1000,2000,3000,4000,5000,6000,7000,8000,9000,10000], "labelExpr": "datum.value == 100 ? '10²' : datum.value == 1000 ? '10³' : datum.value == 10000 ? '10⁴' : ''"}},
     "y": {"field": "y", "type": "quantitative", "scale": {"domain": [0, 1], "nice": false}, "axis": {"title": "Proportion of Solved Instances", "values": [0, 0.2, 0.4, 0.6, 0.8, 1.0], "format": ".1f"}},
     "color": {"field": "s", "type": "nominal", "scale": {"domain": ["c","b","bn","r","rn"], "range": ["#000000","#0000ff","#0000ff","#ff0000","#ff0000"]}, "legend": {"title": null, "labelExpr": "datum.value == 'c' ? 'CMA-ES' : datum.value == 'b' ? 'EPM-CMA-ES ψ₁₀' : datum.value == 'bn' ? 'EPM-CMA-ES ψ₁₀, θ_new' : datum.value == 'r' ? 'EPM-CMA-ES ψ₅₀' : 'EPM-CMA-ES ψ₅₀, θ_new'"}},
     "strokeDash": {"field": "s", "type": "nominal", "scale": {"domain": ["c","b","bn","r","rn"], "range": [[6,3,2,3],[1,0],[2,2],[1,0],[2,2]]}, "legend": {"title": null, "labelExpr": "datum.value == 'c' ? 'CMA-ES' : datum.value == 'b' ? 'EPM-CMA-ES ψ₁₀' : datum.value == 'bn' ? 'EPM-CMA-ES ψ₁₀, θ_new' : datum.value == 'r' ? 'EPM-CMA-ES ψ₅₀' : 'EPM-CMA-ES ψ₅₀, θ_new'"}},
     "strokeWidth": {"field": "s", "type": "nominal", "scale": {"domain": ["c","b","bn","r","rn"], "range": [3,2.5,1.5,2.5,1.5]}, "legend": {"title": null, "labelExpr": "datum.value == 'c' ? 'CMA-ES' : datum.value == 'b' ? 'EPM-CMA-ES ψ₁₀' : datum.value == 'bn' ? 'EPM-CMA-ES ψ₁₀, θ_new' : datum.value == 'r' ? 'EPM-CMA-ES ψ₅₀' : 'EPM-CMA-ES ψ₅₀, θ_new'"}}
    }},
   {"data": {"name": "marks"}, "transform": [{"filter": "datum.d == 50"}], "mark": {"type": "point", "filled": true, "size": 14, "opacity": 1},
    "encoding": {"x": {"field": "x", "type": "quantitative"}, "y": {"field": "y", "type": "quantitative"}, "fill": {"field": "s", "type": "nominal", "scale": {"domain": ["bn","rn"], "range": ["#0000ff","#ff0000"]}, "legend": null}}},
   {"data": {"name": "vline"}, "mark": {"type": "rule", "color": "#000", "strokeWidth": 2.5}, "encoding": {"x": {"field": "x", "type": "quantitative"}}}
  ]}
]
}
